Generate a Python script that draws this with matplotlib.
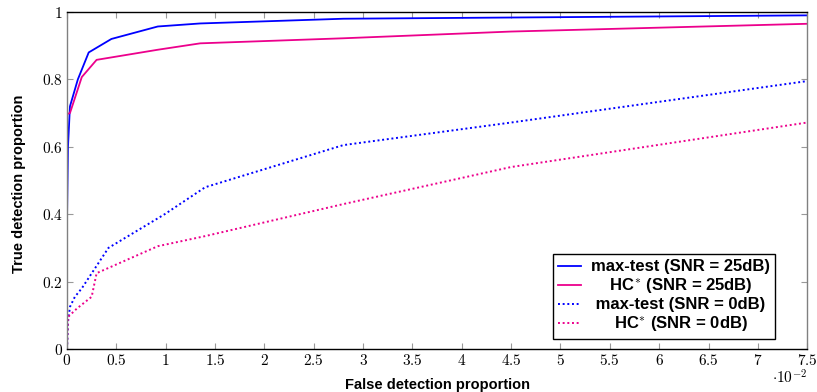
import numpy as np
import matplotlib.pyplot as plt
from matplotlib.textpath import TextPath
from matplotlib.font_manager import FontProperties

plt.rcParams['mathtext.fontset'] = 'cm'

# false detection proportion (in units of 1e-2) / true detection proportion
fp_max25 = [0.0, 0.01, 0.03, 0.11, 0.22, 0.45, 0.92, 1.35, 2.8, 7.5]
tp_max25 = [0.38, 0.60, 0.72, 0.80, 0.88, 0.92, 0.957, 0.966, 0.98, 0.99]

fp_hc25 = [0.0, 0.03, 0.15, 0.3, 0.92, 1.35, 2.8, 4.5, 7.5]
tp_hc25 = [0.697, 0.70, 0.807, 0.858, 0.888, 0.907, 0.922, 0.942, 0.965]

fp_max0 = [0.0, 0.01, 0.03, 0.08, 0.15, 0.42, 0.99, 1.4, 2.8, 4.5, 7.5]
tp_max0 = [0.0, 0.08, 0.125, 0.155, 0.18, 0.30, 0.40, 0.48, 0.605, 0.672, 0.795]

fp_hc0 = [0.0, 0.01, 0.1, 0.25, 0.3, 0.92, 1.4, 2.8, 4.5, 7.5]
tp_hc0 = [0.0, 0.095, 0.12, 0.155, 0.225, 0.305, 0.335, 0.43, 0.54, 0.672]

labels = ['max-test (SNR = 25dB)', 'HC$^{*}$ (SNR = 25dB)',
          'max-test (SNR = 0dB)', 'HC$^{*}$ (SNR = 0dB)']

blue = '#0000ff'
pink = '#ec008c'

# centre the legend texts by padding with leading spaces
fp = FontProperties(family='Liberation Sans', weight='bold', size=12)
widths = [TextPath((0, 0), l, prop=fp).get_extents().width for l in labels]
space_w = (TextPath((0, 0), 'a a', prop=fp).get_extents().width
           - TextPath((0, 0), 'aa', prop=fp).get_extents().width)
wmax = max(widths)
padded = [' ' * int(round((wmax - w) / 2 / space_w)) + l for l, w in zip(labels, widths)]

fig = plt.figure(figsize=(8.17, 3.92), dpi=100)
ax = fig.add_axes([0.082, 0.1097, 0.906, 0.8597])

dot = (0, (1, 1.4))
ax.plot(np.array(fp_max25) * 1e-2, tp_max25, color=blue, lw=1.3, label=padded[0])
ax.plot(np.array(fp_hc25) * 1e-2, tp_hc25, color=pink, lw=1.3, label=padded[1])
ax.plot(np.array(fp_max0) * 1e-2, tp_max0, color=blue, lw=1.4, ls=dot, label=padded[2])
ax.plot(np.array(fp_hc0) * 1e-2, tp_hc0, color=pink, lw=1.4, ls=dot, label=padded[3])

ax.set_xlim(0, 0.075)
ax.set_ylim(0, 1)

xt = np.arange(0, 7.51, 0.5)
ax.set_xticks(xt * 1e-2)
ax.set_xticklabels(['$%g$' % v for v in xt])
yt = [0, 0.2, 0.4, 0.6, 0.8, 1]
ax.set_yticks(yt)
ax.set_yticklabels(['$%g$' % v for v in yt])
ax.tick_params(direction='in', length=4, width=0.8, color='#999999',
               top=True, right=True, labelsize=11, pad=3)

for s in ['left', 'right']:
    ax.spines[s].set_color('#808080')
for s in ax.spines.values():
    s.set_linewidth(1.0)

ax.set_xlabel('False detection proportion', fontfamily='Liberation Sans',
              fontweight='bold', fontsize=10.5)
ax.xaxis.set_label_coords(0.5, -0.085)
ax.set_ylabel('True detection proportion', fontfamily='Liberation Sans',
              fontweight='bold', fontsize=10.5)
ax.yaxis.set_label_coords(-0.056, 0.491)

ax.text(1.0, -0.085, r'$\cdot 10^{-2}$', transform=ax.transAxes,
        ha='right', va='center', fontsize=11)

leg = ax.legend(loc='lower right', bbox_to_anchor=(0.957, 0.03),
                prop=fp, frameon=True, fancybox=False, edgecolor='black',
                framealpha=1, handlelength=1.4, borderpad=0.3,
                labelspacing=0.1, handletextpad=0.6, borderaxespad=0)
leg.get_frame().set_linewidth(1.0)

fig.savefig('out.png', dpi=100)
